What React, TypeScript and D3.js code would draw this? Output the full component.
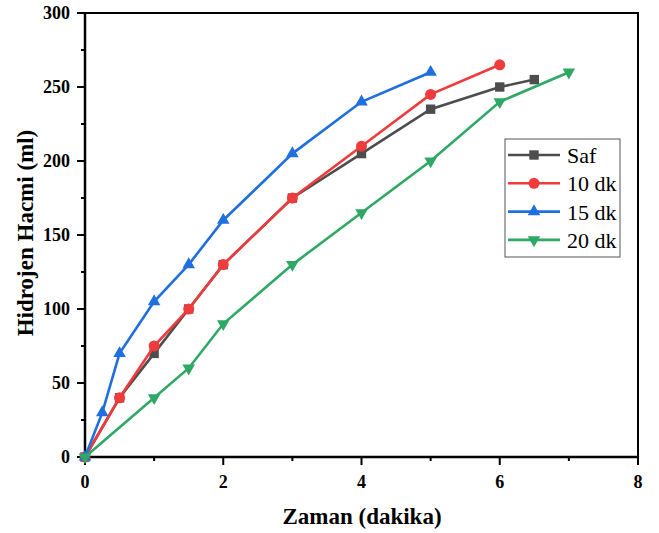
import React from 'react';
import * as d3 from 'd3';

const seriesNames = ['Saf', '10 dk', '15 dk', '20 dk'];
const seriesColors = ['#4d4d4d', '#ef3b3b', '#1f6fdf', '#2fa865'];

const safX = [0, 0.5, 1, 1.5, 2, 3, 4, 5, 6, 6.5];
const safY = [0, 40, 70, 100, 130, 175, 205, 235, 250, 255];
const dk10X = [0, 0.5, 1, 1.5, 2, 3, 4, 5, 6];
const dk10Y = [0, 40, 75, 100, 130, 175, 210, 245, 265];
const dk15X = [0, 0.25, 0.5, 1, 1.5, 2, 3, 4, 5];
const dk15Y = [0, 30, 70, 105, 130, 160, 205, 240, 260];
const dk20X = [0, 1, 1.5, 2, 3, 4, 5, 6, 7];
const dk20Y = [0, 40, 60, 90, 130, 165, 200, 240, 260];

const xTicks = [0, 2, 4, 6, 8];
const xMinor = [1, 3, 5, 7];
const yTicks = [0, 50, 100, 150, 200, 250, 300];
const yMinor = [25, 75, 125, 175, 225, 275];

const x = d3.scaleLinear().domain([0, 8]).range([85, 638]);
const y = d3.scaleLinear().domain([0, 300]).range([457, 13]);

const series = [
    safX.map((v, i) => [v, safY[i]]),
    dk10X.map((v, i) => [v, dk10Y[i]]),
    dk15X.map((v, i) => [v, dk15Y[i]]),
    dk20X.map((v, i) => [v, dk20Y[i]]),
];

const symbols = [d3.symbolSquare, d3.symbolCircle, d3.symbolTriangle, d3.symbolTriangle];
const sizes = [88, 95, 68, 68];
const marker = (k: number) => d3.symbol(symbols[k], sizes[k])() || '';
const rot = (k: number) => (k === 3 ? ' rotate(180)' : '');

const line = d3.line<number[]>().x(d => x(d[0])).y(d => y(d[1]));

const tf = (size: number, bold: boolean) => ({
    fontFamily: "'Liberation Serif'",
    fontSize: size,
    fontWeight: bold ? 'bold' : 'normal',
});

const App = () => {
    return (
        <div style={{ position: 'absolute', left: 0, top: 0 }}>
            <svg width={659} height={533}>
                <rect x={85} y={13} width={553} height={444} fill="none" stroke="#000" strokeWidth={2} />
                <line x1={85} x2={85} y1={12} y2={458} stroke="#000" strokeWidth={2.5} />
                <line x1={84} x2={639} y1={457} y2={457} stroke="#000" strokeWidth={2.5} />

                {xTicks.map(t => (
                    <g key={'x' + t}>
                        <line x1={x(t)} x2={x(t)} y1={457} y2={465} stroke="#000" strokeWidth={2} />
                        <text x={x(t)} y={488} textAnchor="middle" style={tf(18, true)}>{t}</text>
                    </g>
                ))}
                {xMinor.map(t => (
                    <line key={'xm' + t} x1={x(t)} x2={x(t)} y1={457} y2={461} stroke="#000" strokeWidth={2} />
                ))}
                {yTicks.map(t => (
                    <g key={'y' + t}>
                        <line x1={77} x2={85} y1={y(t)} y2={y(t)} stroke="#000" strokeWidth={2} />
                        <text x={70} y={y(t) + 6} textAnchor="end" style={tf(18, true)}>{t}</text>
                    </g>
                ))}
                {yMinor.map(t => (
                    <line key={'ym' + t} x1={81} x2={85} y1={y(t)} y2={y(t)} stroke="#000" strokeWidth={2} />
                ))}

                {series.map((pts, k) => (
                    <g key={'s' + k}>
                        <path d={line(pts) || ''} fill="none" stroke={seriesColors[k]} strokeWidth={2.6} />
                        {pts.map((d, i) => (
                            <path key={i} d={marker(k)} fill={seriesColors[k]}
                                transform={`translate(${x(d[0])},${y(d[1])})${rot(k)}`} />
                        ))}
                    </g>
                ))}

                <g transform="translate(505,139)">
                    <rect width={115} height={118} fill="#fff" stroke="#555" strokeWidth={1} />
                    {seriesNames.map((n, k) => {
                        const cy = 16 + k * 28.3;
                        return (
                            <g key={n}>
                                <line x1={3} x2={55} y1={cy} y2={cy} stroke={seriesColors[k]} strokeWidth={2.6} />
                                <path d={marker(k)} fill={seriesColors[k]} transform={`translate(29,${cy})${rot(k)}`} />
                                <text x={62} y={cy + 8} style={tf(22, false)}>{n}</text>
                            </g>
                        );
                    })}
                </g>

                <text x={362} y={524} textAnchor="middle" style={tf(23, true)}>
                    Zaman (dakika)
                </text>
                <text transform="translate(33,233) rotate(-90)" textAnchor="middle" style={tf(23, true)}>
                    Hidrojen Hacmi (ml)
                </text>
            </svg>
        </div>
    );
};

export default App;
